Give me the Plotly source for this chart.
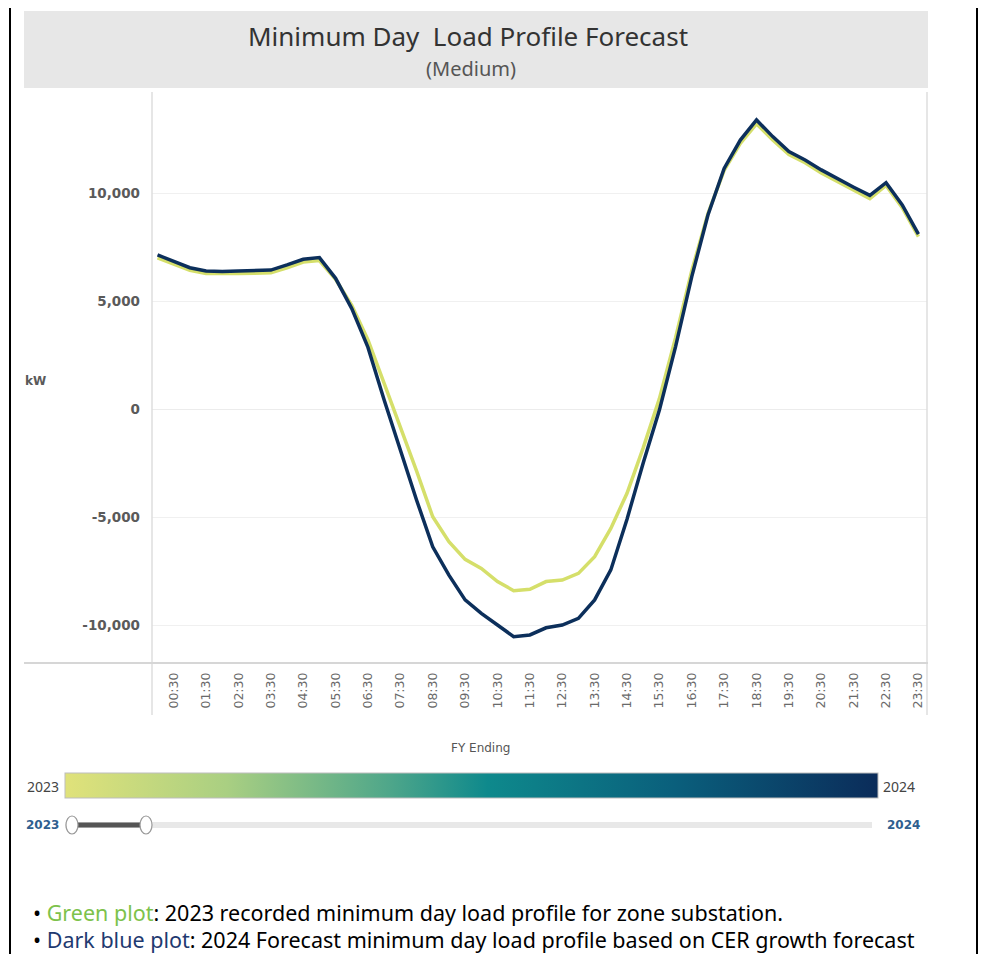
import plotly.graph_objects as go

# ---------------- data ----------------
times = [f"{h:02d}:{m:02d}" for h in range(24) for m in (0, 30)]
load_2023 = [7000, 6700, 6420, 6270, 6250, 6270, 6280, 6310, 6540, 6800,
             6870, 6000, 4800, 3200, 1190, -830, -2860, -4990, -6140, -6960,
             -7380, -7990, -8410, -8350, -7990, -7920, -7610, -6840, -5530, -3900,
             -1800, 480, 3300, 6400, 9050, 11050, 12300, 13200, 12450, 11780,
             11400, 10930, 10520, 10130, 9740, 10350, 9320, 7980]
load_2024 = [7130, 6820, 6540, 6390, 6360, 6390, 6400, 6430, 6670, 6930,
             7010, 6050, 4650, 2850, 420, -1930, -4210, -6380, -7690, -8840,
             -9460, -10000, -10540, -10460, -10130, -10000, -9690, -8840, -7450, -5100,
             -2500, -50, 2890, 6130, 8980, 11140, 12450, 13380, 12610, 11920,
             11530, 11070, 10650, 10270, 9890, 10480, 9450, 8100]
years = [2023, 2024]
y_tick_vals = [-10000, -5000, 0, 5000, 10000]
y_tick_text = ["-10,000", "-5,000", "0", "5,000", "10,000"]
x_tick_vals = [t for t in times if t.endswith(":30")]

# page body has an 8px margin: the figure is placed at (8, 8)
OFF = 8
FW, FH = 970, 946
def px(x): return (x - OFF) / FW
def py(y): return 1 - (y - OFF) / FH

col_2023 = "#d5df6a"
col_2024 = "#0c2f5b"
colorscale = [[0.0, "#e0e27a"], [0.2, "#a9cf82"], [0.4, "#4ea68a"],
              [0.52, "#0e898c"], [0.75, "#0a5f7c"], [1.0, "#0b2c5a"]]

fig = go.Figure()
fig.add_trace(go.Scatter(x=times, y=load_2023, mode="lines", name="2023",
                         line=dict(color=col_2023, width=3.5), hoverinfo="x+y+name"))
fig.add_trace(go.Scatter(x=times, y=load_2024, mode="lines", name="2024",
                         line=dict(color=col_2024, width=3.5), hoverinfo="x+y+name"))
# colour legend (gradient bar)
fig.add_trace(go.Scatter(x=[times[0], times[-1]], y=[None, None], mode="markers",
                         marker=dict(color=years, coloraxis="coloraxis", size=1),
                         showlegend=False, hoverinfo="skip"))

plot_left, plot_right, plot_top, plot_bottom = 152, 927, 95, 663
sp = 16.19
x0 = 157.5
xr = [(plot_left - x0) / sp, (plot_right - x0) / sp]
k = 5000 / 108
yr = [(409 - plot_bottom) * k, (409 - plot_top) * k]

axis_font = "DejaVu Sans, Verdana, sans-serif"
text_font = "Noto Sans, Open Sans, sans-serif"

fig.update_layout(
    width=FW, height=FH,
    margin=dict(l=0, r=0, t=0, b=0),
    paper_bgcolor="white", plot_bgcolor="white",
    showlegend=False,
    xaxis=dict(domain=[px(plot_left), px(plot_right)], range=xr,
               type="category", categoryorder="array", categoryarray=times,
               tickmode="array", tickvals=x_tick_vals, ticktext=x_tick_vals,
               tickangle=-90, tickfont=dict(family=axis_font, size=12.5, color="#6a6a6a"),
               showgrid=False, zeroline=False, showline=False, ticks="",
               ticklabelstandoff=6),
    yaxis=dict(domain=[py(plot_bottom), py(plot_top)], range=yr,
               tickmode="array", tickvals=y_tick_vals, ticktext=y_tick_text,
               tickfont=dict(family=axis_font, size=13.5, color="#5a5a5a", weight="bold"),
               showgrid=True, gridcolor="#f0f0f0", gridwidth=1,
               zeroline=True, zerolinecolor="#ececec", zerolinewidth=1,
               showline=False, ticks="", ticklabelstandoff=11),
    coloraxis=dict(colorscale=colorscale, cmin=2023, cmax=2024,
                   colorbar=dict(orientation="h", lenmode="pixels", len=813,
                                 thicknessmode="pixels", thickness=25,
                                 x=px(471.5), xanchor="center",
                                 y=py(785.5), yanchor="middle",
                                 xpad=0, ypad=0,
                                 outlinecolor="#bdbdbd", outlinewidth=1,
                                 showticklabels=False, ticks="")),
)

shapes = []
shapes.append(dict(type="rect", xref="paper", yref="paper",
                   x0=px(24), x1=px(928), y0=py(88), y1=py(11),
                   fillcolor="#e7e7e7", line=dict(width=0), layer="below"))
shapes.append(dict(type="line", xref="paper", yref="paper",
                   x0=px(152), x1=px(152), y0=py(92), y1=py(715),
                   line=dict(color="#dedede", width=1.5)))
shapes.append(dict(type="line", xref="paper", yref="paper",
                   x0=px(927), x1=px(927), y0=py(92), y1=py(715),
                   line=dict(color="#dedede", width=1.5)))
shapes.append(dict(type="line", xref="paper", yref="paper",
                   x0=px(24), x1=px(928), y0=py(663), y1=py(663),
                   line=dict(color="#d6d6d6", width=2)))
shapes.append(dict(type="line", xref="paper", yref="paper",
                   x0=px(10), x1=px(10), y0=0, y1=1,
                   line=dict(color="black", width=2)))
shapes.append(dict(type="line", xref="paper", yref="paper",
                   x0=px(977), x1=px(977), y0=0, y1=1,
                   line=dict(color="black", width=2)))
shapes.append(dict(type="rect", xref="paper", yref="paper",
                   x0=px(65), x1=px(872), y0=py(828), y1=py(822),
                   fillcolor="#e8e8e8", line=dict(width=0)))
shapes.append(dict(type="rect", xref="paper", yref="paper",
                   x0=px(73), x1=px(145), y0=py(827.5), y1=py(822.5),
                   fillcolor="#555555", line=dict(width=0)))
for hx in (72, 146):
    shapes.append(dict(type="circle", xref="paper", yref="paper",
                       x0=px(hx - 6), x1=px(hx + 6), y0=py(834), y1=py(816),
                       fillcolor="white", line=dict(color="#9a9a9a", width=1.2)))
fig.update_layout(shapes=shapes)

def note(text, x, y, size, color, family=text_font, xanchor="center", weight="normal"):
    return dict(text=text, x=px(x), y=py(y), xref="paper", yref="paper",
                xanchor=xanchor, yanchor="middle", showarrow=False,
                font=dict(family=family, size=size, color=color, weight=weight))

ann = [
    note("Minimum Day  Load Profile Forecast", 468, 36, 26, "#333333"),
    note("(Medium)", 471, 69, 20, "#555555"),
    note("kW", 35, 381, 12, "#5a5a5a", family=axis_font, weight="bold"),
    note("FY Ending", 480, 748, 12, "#555555", family=axis_font),
    note("2023", 61, 786, 14, "#444444", family=text_font, xanchor="right"),
    note("2024", 881, 786, 14, "#444444", family=text_font, xanchor="left"),
    note("2023", 61, 825, 12, "#2f5f8f", family=axis_font, xanchor="right", weight="bold"),
    note("2024", 922, 825, 12, "#2f5f8f", family=axis_font, xanchor="right", weight="bold"),
    note("• <span style='color:#7dc24b'>Green plot</span>: 2023 recorded minimum day load profile for zone substation.",
         31, 912, 21.5, "black", xanchor="left"),
    note("• <span style='color:#1f3a70'>Dark blue plot</span>: 2024 Forecast minimum day load profile based on CER growth forecast",
         31, 939, 21.5, "black", xanchor="left"),
]
fig.update_layout(annotations=ann)

fig.write_html("out.html")
